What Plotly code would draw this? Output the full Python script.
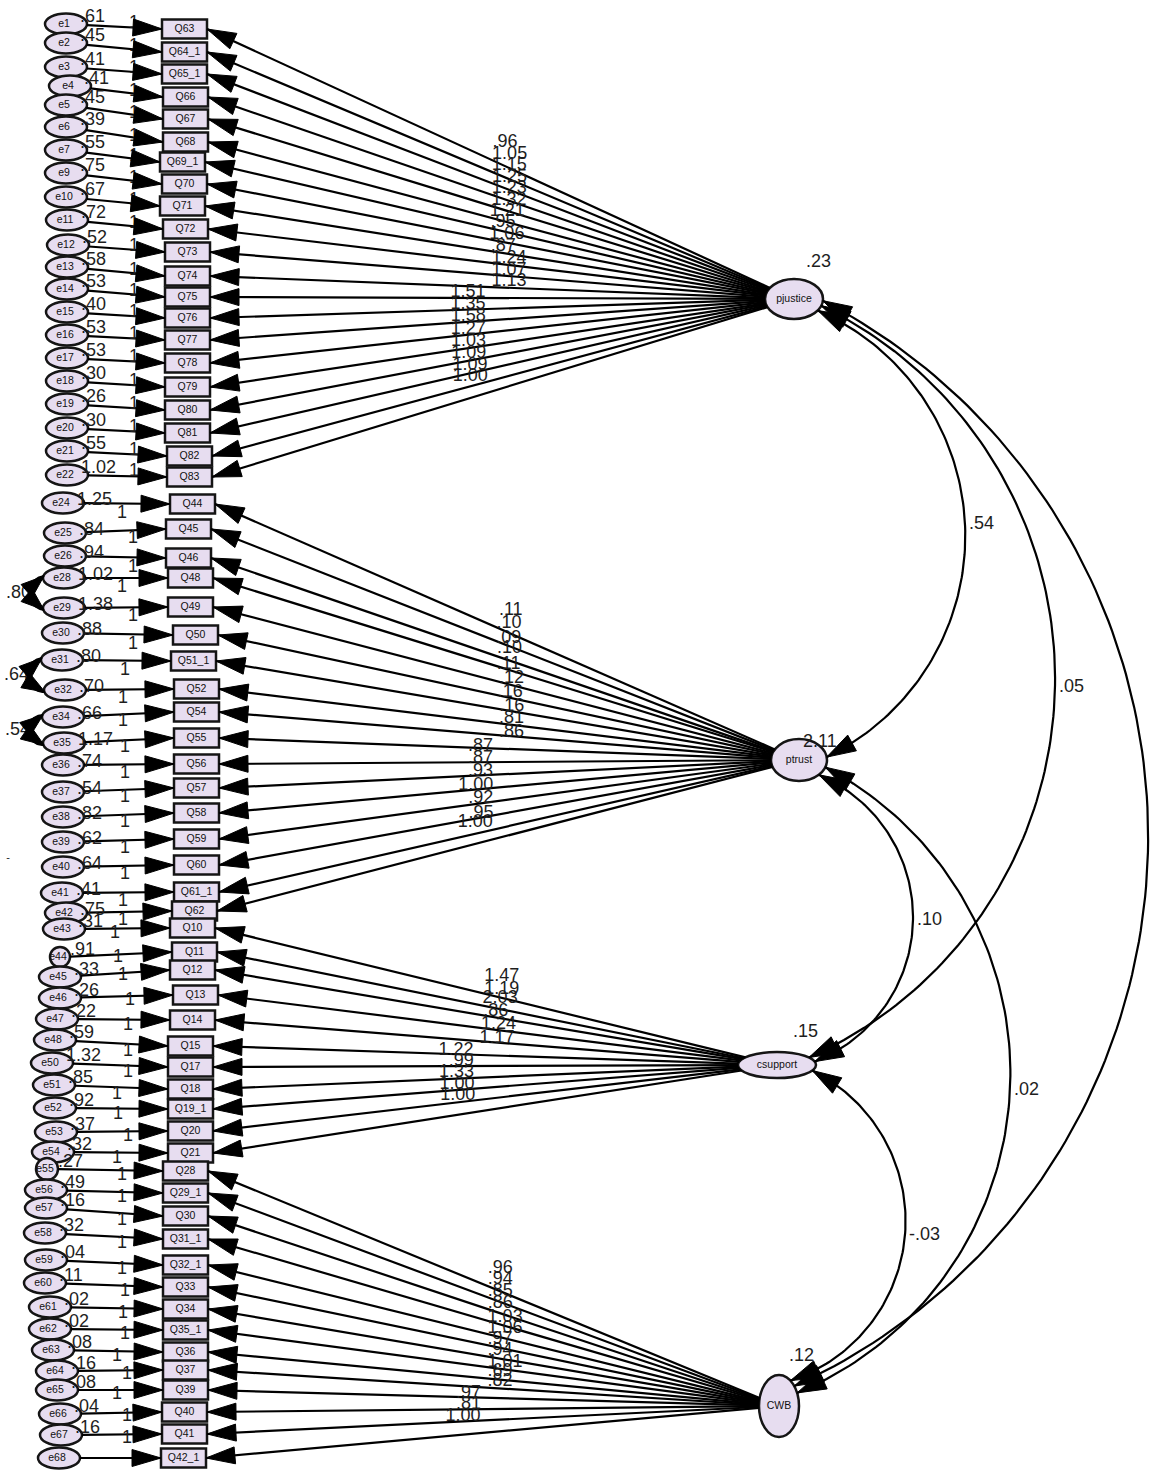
import math
import plotly.graph_objects as go

W, H = 1152, 1472

# ---------------- data ----------------
factors = ["pjustice", "ptrust", "csupport", "CWB"]
factor_var = [".23", "2.11", ".15", ".12"]

pj_items = ["Q63", "Q64_1", "Q65_1", "Q66", "Q67", "Q68", "Q69_1", "Q70", "Q71", "Q72", "Q73",
            "Q74", "Q75", "Q76", "Q77", "Q78", "Q79", "Q80", "Q81", "Q82", "Q83"]
pj_errors = ["e1", "e2", "e3", "e4", "e5", "e6", "e7", "e9", "e10", "e11", "e12", "e13", "e14",
             "e15", "e16", "e17", "e18", "e19", "e20", "e21", "e22"]
pj_err_var = [".61", ".45", ".41", ".41", ".45", ".39", ".55", ".75", ".67", ".72", ".52", ".58",
              ".53", ".40", ".53", ".53", ".30", ".26", ".30", ".55", "1.02"]
pj_loadings = [".96", "1.05", "1.15", "1.25", "1.23", "1.32", "1.21", ".95", "1.06", ".87", "1.24",
               "1.07", "1.13", "1.51", "1.35", "1.58", "1.27", "1.03", "1.09", "1.09", "1.00"]

pt_items = ["Q44", "Q45", "Q46", "Q48", "Q49", "Q50", "Q51_1", "Q52", "Q54", "Q55", "Q56", "Q57",
            "Q58", "Q59", "Q60", "Q61_1", "Q62"]
pt_errors = ["e24", "e25", "e26", "e28", "e29", "e30", "e31", "e32", "e34", "e35", "e36", "e37",
             "e38", "e39", "e40", "e41", "e42"]
pt_err_var = ["1.25", ".84", ".94", "1.02", "1.38", ".88", ".80", ".70", ".66", "1.17", ".74", ".54",
              ".82", ".62", ".64", ".41", ".75"]
pt_loadings = [".11", ".10", ".09", ".10", ".11", ".12", ".16", ".16", ".81", ".86", ".87", ".87",
               ".93", "1.00", ".92", ".95", "1.00"]

cs_items = ["Q10", "Q11", "Q12", "Q13", "Q14", "Q15", "Q17", "Q18", "Q19_1", "Q20", "Q21"]
cs_errors = ["e43", "e44", "e45", "e46", "e47", "e48", "e50", "e51", "e52", "e53", "e54"]
cs_err_var = [".31", ".91", ".33", ".26", ".22", ".59", "1.32", ".85", ".92", ".37", ".32"]
cs_loadings = ["1.47", "1.19", "2.03", ".86", "1.24", "1.17", "1.22", ".99", "1.33", "1.00", "1.00"]

cw_items = ["Q28", "Q29_1", "Q30", "Q31_1", "Q32_1", "Q33", "Q34", "Q35_1", "Q36", "Q37", "Q39",
            "Q40", "Q41", "Q42_1"]
cw_errors = ["e55", "e56", "e57", "e58", "e59", "e60", "e61", "e62", "e63", "e64", "e65", "e66",
             "e67", "e68"]
cw_err_var = [".27", ".49", ".16", ".32", ".04", ".11", ".02", ".02", ".08", ".16", ".08", ".04",
              ".16", ""]
cw_loadings = [".96", ".94", ".85", ".86", "1.03", "1.06", ".97", ".94", "1.01", ".69", ".82",
               ".97", ".81", "1.00"]

factor_covs = [("pjustice", "ptrust", ".54"), ("pjustice", "csupport", ".05"),
               ("pjustice", "CWB", ""), ("ptrust", "csupport", ".10"),
               ("ptrust", "CWB", ".02"), ("csupport", "CWB", "-.03")]
error_covs = [("e28", "e29", ".80"), ("e31", "e32", ".64"), ("e34", "e35", ".54")]

# ---------------- layout (positions / sizes) ----------------
fac_cx = [794, 799, 777, 779]
fac_cy = [299, 760, 1065, 1406]
fac_rx = [29, 28, 39, 20]
fac_ry = [20, 21, 13, 31]
fac_lab_dx = [12, 4, 16, 10]
fac_lab_dy = [-37, -18, -33, -50]

box_cy = [29, 52, 74, 97, 119, 142, 162, 184, 206, 229, 252, 276, 297, 318, 340, 363, 387, 410, 433, 456, 477,
          504, 529, 558, 578, 607, 635, 661, 689, 712, 738, 764, 788, 813, 839, 865, 892, 911,
          928, 952, 970, 995, 1020, 1046, 1067, 1089, 1109, 1131, 1153,
          1171, 1193, 1216, 1239, 1265, 1287, 1309, 1330, 1352, 1370, 1390, 1412, 1434, 1458]
box_x0 = [162, 162, 162, 163, 163, 163, 160, 162, 160, 163, 165, 165, 165, 165, 165, 165, 165, 165, 165, 167, 167,
          170, 166, 166, 168, 168, 173, 171, 174, 174, 174, 174, 174, 174, 174, 174, 174, 172,
          170, 172, 170, 173, 170, 168, 168, 168, 168, 168, 168,
          163, 163, 163, 163, 163, 163, 163, 163, 163, 163, 163, 162, 162, 161]
err_cx = [66, 66, 66, 70, 66, 66, 66, 66, 66, 67, 68, 67, 67, 67, 67, 67, 67, 67, 67, 67, 67,
          63, 65, 65, 64, 64, 63, 62, 65, 63, 64, 63, 63, 63, 63, 63, 62, 66,
          64, 60, 60, 60, 57, 55, 52, 54, 55, 56, 53,
          47, 46, 46, 45, 46, 45, 50, 50, 53, 57, 57, 60, 61, 59]
err_cy = [24, 43, 67, 86, 105, 127, 150, 173, 197, 220, 245, 267, 289, 312, 335, 358, 381, 404, 428, 451, 475,
          503, 533, 556, 578, 608, 633, 660, 690, 717, 743, 765, 792, 817, 842, 867, 893, 913,
          929, 957, 977, 998, 1019, 1040, 1063, 1085, 1108, 1132, 1152,
          1169, 1190, 1208, 1233, 1260, 1283, 1307, 1329, 1350, 1371, 1390, 1414, 1435, 1458]
small_errors = {"e44": 10, "e55": 11}
one_x = [134] * 21 + \
        [122, 133, 133, 122, 133, 133, 125, 123, 123, 125, 125, 125, 125, 125, 125, 123, 123] + \
        [115, 118, 123, 130, 128, 128, 128, 117, 118, 128, 117] + \
        [122, 122, 122, 122, 122, 125, 123, 125, 117, 127, 117, 127, 127, None]
group_one_dy = [-6, 9, 5, 4]
group_var_dy = [-7, -3, -7, -7]
cov_peaks = [(965, 524), (1055, 687), (1148, 850), (913, 920), (1010, 1090), (905, 1235)]
cov_angles = [(35, -8), (20, -35), (5, -40), (45, -15), (20, -25), (25, -55)]

BOX_W, BOX_H = 45, 19
ERR_RX, ERR_RY = 21, 10.5
FILL = "#E7DDF0"
EDGE = "#151515"
TXT = "#1E1E1E"
FONT = "Liberation Sans, Arial, sans-serif"
NUM_SIZE = 18

groups = [
    (pj_items, pj_errors, pj_err_var, pj_loadings),
    (pt_items, pt_errors, pt_err_var, pt_loadings),
    (cs_items, cs_errors, cs_err_var, cs_loadings),
    (cw_items, cw_errors, cw_err_var, cw_loadings),
]


# ---------------- geometry helpers ----------------
def ell_toward(cx, cy, rx, ry, tx, ty):
    dx, dy = tx - cx, ty - cy
    t = 1.0 / math.sqrt((dx / rx) ** 2 + (dy / ry) ** 2)
    return cx + dx * t, cy + dy * t


def tri(tipx, tipy, fromx, fromy, L=28, hw=8.5):
    dx, dy = tipx - fromx, tipy - fromy
    d = math.hypot(dx, dy)
    ux, uy = dx / d, dy / d
    bx, by = tipx - ux * L, tipy - uy * L
    px, py = -uy, ux
    return (f"M{tipx:.1f},{tipy:.1f} L{bx + px * hw:.1f},{by + py * hw:.1f} "
            f"L{bx - px * hw:.1f},{by - py * hw:.1f} Z")


def circ3(p1, p2, p3):
    ax, ay = p1
    bx, by = p2
    cx, cy = p3
    d = 2 * (ax * (by - cy) + bx * (cy - ay) + cx * (ay - by))
    ux = ((ax * ax + ay * ay) * (by - cy) + (bx * bx + by * by) * (cy - ay) + (cx * cx + cy * cy) * (ay - by)) / d
    uy = ((ax * ax + ay * ay) * (cx - bx) + (bx * bx + by * by) * (ax - cx) + (cx * cx + cy * cy) * (bx - ax)) / d
    return ux, uy, math.hypot(ax - ux, ay - uy)


def arc_points(S, P, E, n=120):
    ux, uy, r = circ3(S, P, E)
    a1 = math.atan2(S[1] - uy, S[0] - ux)
    a2 = math.atan2(P[1] - uy, P[0] - ux)
    a3 = math.atan2(E[1] - uy, E[0] - ux)
    tw = 2 * math.pi
    d13 = (a3 - a1) % tw
    d12 = (a2 - a1) % tw
    span = d13 if d12 < d13 else d13 - tw
    pts = [(ux + r * math.cos(a1 + span * i / n), uy + r * math.sin(a1 + span * i / n)) for i in range(n + 1)]
    return pts, r, a1, span, ux, uy


shapes = []
heads = []
line_x, line_y = [], []
arc_x, arc_y = [], []

txt_small = dict(x=[], y=[], t=[])
txt_num_l = dict(x=[], y=[], t=[])
txt_num_r = dict(x=[], y=[], t=[])
txt_ones = dict(x=[], y=[], t=[])

err_pos = {}
row = 0
for g, (items, errs, evars, loads) in enumerate(groups):
    fcx, fcy, frx, fry = fac_cx[g], fac_cy[g], fac_rx[g], fac_ry[g]
    for k in range(len(items)):
        x0 = box_x0[row]
        cy = box_cy[row]
        x1 = x0 + BOX_W
        shapes.append(dict(type="rect", x0=x0, x1=x1, y0=cy - BOX_H / 2, y1=cy + BOX_H / 2,
                           fillcolor=FILL, line=dict(color=EDGE, width=2.5), layer="below"))
        txt_small["x"].append(x0 + BOX_W / 2)
        txt_small["y"].append(cy)
        txt_small["t"].append(items[k])

        ename = errs[k]
        ecx, ecy = err_cx[row], err_cy[row]
        erx = small_errors.get(ename, ERR_RX)
        ery = small_errors.get(ename, ERR_RY)
        err_pos[ename] = (ecx, ecy, erx, ery)
        shapes.append(dict(type="circle", x0=ecx - erx, x1=ecx + erx, y0=ecy - ery, y1=ecy + ery,
                           fillcolor=FILL, line=dict(color=EDGE, width=2.5), layer="below"))
        txt_small["x"].append(ecx - 2)
        txt_small["y"].append(ecy)
        txt_small["t"].append(ename)

        sx, sy = ell_toward(ecx, ecy, erx, ery, x0, cy)
        line_x += [sx, x0, None]
        line_y += [sy, cy, None]
        heads.append(tri(x0, cy, sx, sy, L=29, hw=8.5))

        if evars[k]:
            off = -7 if ename not in small_errors else 0
            txt_num_l["x"].append(ecx + erx + off)
            txt_num_l["y"].append(ecy + group_var_dy[g])
            txt_num_l["t"].append(evars[k])

        if one_x[row] is not None:
            txt_ones["x"].append(one_x[row])
            txt_ones["y"].append(cy + group_one_dy[g])
            txt_ones["t"].append("1")

        fx, fy = ell_toward(fcx, fcy, frx, fry, x1, cy)
        line_x += [fx, x1, None]
        line_y += [fy, cy, None]
        heads.append(tri(x1, cy, fx, fy, L=29, hw=8.5))
        mx, my = (fx + x1) / 2, (fy + cy) / 2
        if cy < fcy:
            txt_num_l["x"].append(mx + 4)
            txt_num_l["y"].append(my - 16)
            txt_num_l["t"].append(loads[k])
        else:
            txt_num_r["x"].append(mx - 2)
            txt_num_r["y"].append(my - 16)
            txt_num_r["t"].append(loads[k])
        row += 1

for g, name in enumerate(factors):
    shapes.append(dict(type="circle", x0=fac_cx[g] - fac_rx[g], x1=fac_cx[g] + fac_rx[g],
                       y0=fac_cy[g] - fac_ry[g], y1=fac_cy[g] + fac_ry[g],
                       fillcolor=FILL, line=dict(color=EDGE, width=2.5), layer="below"))
    txt_small["x"].append(fac_cx[g])
    txt_small["y"].append(fac_cy[g])
    txt_small["t"].append(name)
    txt_num_l["x"].append(fac_cx[g] + fac_lab_dx[g])
    txt_num_l["y"].append(fac_cy[g] + fac_lab_dy[g])
    txt_num_l["t"].append(factor_var[g])

fidx = {n: i for i, n in enumerate(factors)}
for (a, b, lab), (px, py), (angA, angB) in zip(factor_covs, cov_peaks, cov_angles):
    ia, ib = fidx[a], fidx[b]
    S = (fac_cx[ia] + fac_rx[ia] * math.cos(math.radians(angA)),
         fac_cy[ia] + fac_ry[ia] * math.sin(math.radians(angA)))
    E = (fac_cx[ib] + fac_rx[ib] * math.cos(math.radians(angB)),
         fac_cy[ib] + fac_ry[ib] * math.sin(math.radians(angB)))
    pts, r, a1, span, ux, uy = arc_points(S, (px, py), E)
    arc_x += [p[0] for p in pts] + [None]
    arc_y += [p[1] for p in pts] + [None]
    da = 28.0 / r * (1 if span > 0 else -1)
    q1 = (ux + r * math.cos(a1 + da), uy + r * math.sin(a1 + da))
    q2 = (ux + r * math.cos(a1 + span - da), uy + r * math.sin(a1 + span - da))
    heads.append(tri(S[0], S[1], q1[0], q1[1], L=29, hw=9))
    heads.append(tri(E[0], E[1], q2[0], q2[1], L=29, hw=9))
    if lab:
        txt_num_l["x"].append(px + 4)
        txt_num_l["y"].append(py)
        txt_num_l["t"].append(lab)

for a, b, lab in error_covs:
    cxa, cya, rxa, rya = err_pos[a]
    cxb, cyb, rxb, ryb = err_pos[b]
    S = (cxa - rxa * 0.95, cya - 2)
    E = (cxb - rxb * 0.95, cyb + 2)
    P = (min(S[0], E[0]) - 15, (S[1] + E[1]) / 2)
    pts, r, a1, span, ux, uy = arc_points(S, P, E)
    arc_x += [p[0] for p in pts] + [None]
    arc_y += [p[1] for p in pts] + [None]
    da = 20.0 / r * (1 if span > 0 else -1)
    q1 = (ux + r * math.cos(a1 + da), uy + r * math.sin(a1 + da))
    q2 = (ux + r * math.cos(a1 + span - da), uy + r * math.sin(a1 + span - da))
    heads.append(tri(S[0], S[1], q1[0], q1[1], L=23, hw=8.5))
    heads.append(tri(E[0], E[1], q2[0], q2[1], L=23, hw=8.5))
    txt_num_r["x"].append(P[0] + 2)
    txt_num_r["y"].append(P[1])
    txt_num_r["t"].append(lab)

for hp in heads:
    shapes.append(dict(type="path", path=hp, fillcolor="#000000",
                       line=dict(color="#000000", width=1), layer="above"))

fig = go.Figure()
fig.add_trace(go.Scatter(x=line_x, y=line_y, mode="lines", line=dict(color="#000000", width=2.2),
                         hoverinfo="skip"))
fig.add_trace(go.Scatter(x=arc_x, y=arc_y, mode="lines", line=dict(color="#000000", width=2.2),
                         hoverinfo="skip"))
fig.add_trace(go.Scatter(x=txt_ones["x"], y=txt_ones["y"], text=txt_ones["t"], mode="text",
                         textposition="middle center",
                         textfont=dict(family=FONT, size=NUM_SIZE, color=TXT), hoverinfo="skip"))
fig.add_trace(go.Scatter(x=txt_num_l["x"], y=txt_num_l["y"], text=txt_num_l["t"], mode="text",
                         textposition="middle right",
                         textfont=dict(family=FONT, size=NUM_SIZE, color=TXT), hoverinfo="skip"))
fig.add_trace(go.Scatter(x=txt_num_r["x"], y=txt_num_r["y"], text=txt_num_r["t"], mode="text",
                         textposition="middle left",
                         textfont=dict(family=FONT, size=NUM_SIZE, color=TXT), hoverinfo="skip"))
fig.add_trace(go.Scatter(x=txt_small["x"], y=txt_small["y"], text=txt_small["t"], mode="text",
                         textposition="middle center",
                         textfont=dict(family=FONT, size=10.5, color="#111111"), hoverinfo="skip"))
fig.add_trace(go.Scatter(x=[8], y=[858], text=["-"], mode="text", textposition="middle center",
                         textfont=dict(family=FONT, size=11, color=TXT), hoverinfo="skip"))

fig.update_layout(
    width=W, height=H, margin=dict(l=0, r=0, t=0, b=0),
    paper_bgcolor="white", plot_bgcolor="white", showlegend=False,
    xaxis=dict(range=[0, W], visible=False, fixedrange=True),
    yaxis=dict(range=[H, 0], visible=False, fixedrange=True),
    shapes=shapes,
)
fig.write_html("out.html", config={"displayModeBar": False},
               post_script="document.body.style.margin='0px';")
